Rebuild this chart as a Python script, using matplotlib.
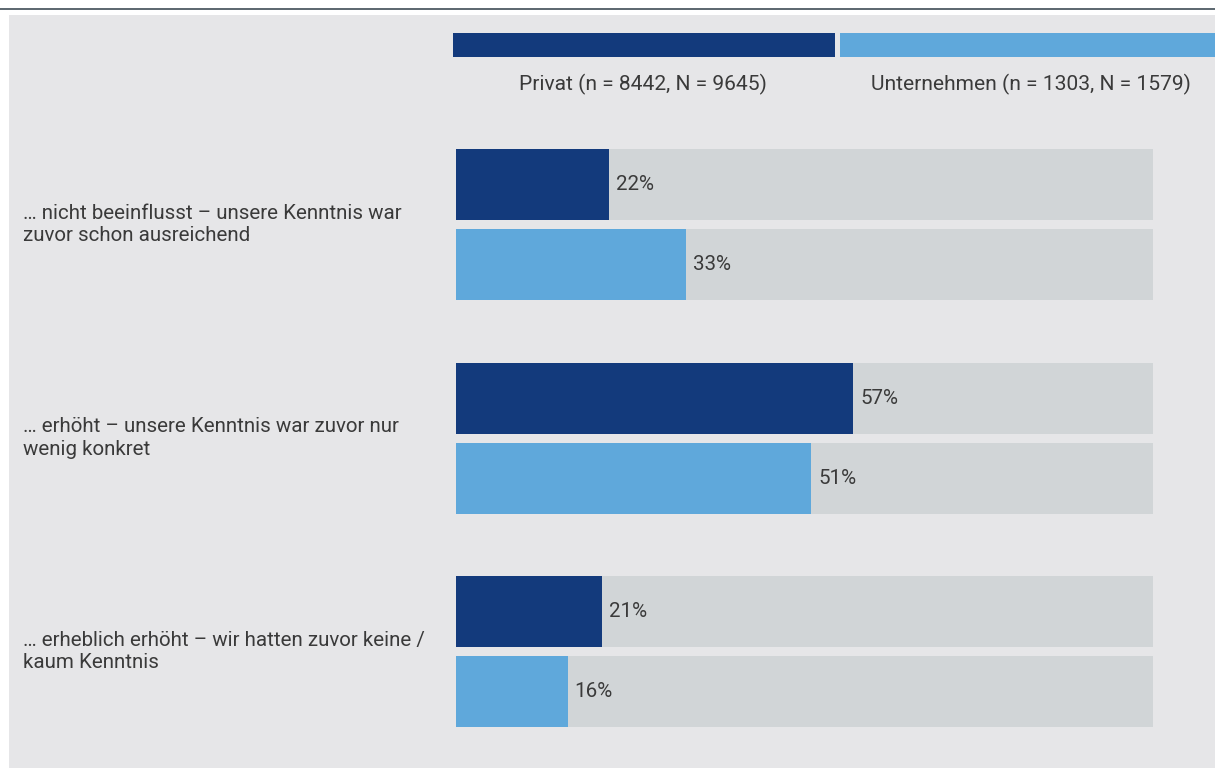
import matplotlib
matplotlib.use("Agg")
import matplotlib.pyplot as plt
from matplotlib.patches import Rectangle

plt.rcParams["font.family"] = ["Roboto", "DejaVu Sans"]

# Survey answers and shares (percent)
categories = [
    "… nicht beeinflusst – unsere Kenntnis war\nzuvor schon ausreichend",
    "… erhöht – unsere Kenntnis war zuvor nur\nwenig konkret",
    "… erheblich erhöht – wir hatten zuvor keine /\nkaum Kenntnis",
]
privat = [22, 57, 21]
unternehmen = [33, 51, 16]
series_labels = ["Privat (n = 8442, N = 9645)", "Unternehmen (n = 1303, N = 1579)"]

DARK = "#133a7c"
LIGHT = "#5fa8db"
TRACK = "#d1d5d7"
PANEL = "#e6e6e8"
TEXT = "#3a3a3a"
RULE = "#5f6a72"
FS = 14.8

W, H = 1215, 768
fig = plt.figure(figsize=(W / 100, H / 100), dpi=100)
fig.patch.set_facecolor("white")

# Panel background and top rule
fig.add_artist(Rectangle((9 / W, 0), 1 - 9 / W, 1 - 15 / H,
                         transform=fig.transFigure, facecolor=PANEL,
                         edgecolor="none", zorder=0))
fig.add_artist(Rectangle((0, 1 - 10 / H), 1, 2 / H,
                         transform=fig.transFigure, facecolor=RULE,
                         edgecolor="none", zorder=0))

# Legend swatches and captions
fig.add_artist(Rectangle((453 / W, 1 - 57 / H), (835 - 453) / W, 24 / H,
                         transform=fig.transFigure, facecolor=DARK,
                         edgecolor="none", zorder=1))
fig.add_artist(Rectangle((840 / W, 1 - 57 / H), (W - 840) / W, 24 / H,
                         transform=fig.transFigure, facecolor=LIGHT,
                         edgecolor="none", zorder=1))
fig.text(643 / W, 1 - 84 / H, series_labels[0], ha="center", va="center",
         fontsize=15.1, color=TEXT)
fig.text(1031 / W, 1 - 84 / H, series_labels[1], ha="center", va="center",
         fontsize=15.1, color=TEXT)

# Bar area: 0–100 % spans the full track width
left_px, right_px = 456, 1153
ax = fig.add_axes([left_px / W, 0, (right_px - left_px) / W, 1])
ax.set_xlim(0, 100)
ax.set_ylim(H, 0)
ax.axis("off")

group_centers = [224.5, 438, 651.5]
offset = 40
bar_h = 71

for i, (cat, p, u) in enumerate(zip(categories, privat, unternehmen)):
    yc = group_centers[i]
    for val, col, y in ((p, DARK, yc - offset), (u, LIGHT, yc + offset)):
        ax.barh(y, 100, height=bar_h, color=TRACK, zorder=1)
        ax.barh(y, val, height=bar_h, color=col, zorder=2)
        ax.annotate(f"{val}%", xy=(val, y), xytext=(5, 0),
                    textcoords="offset points", ha="left", va="center",
                    fontsize=FS, color=TEXT, zorder=3)
    fig.text(23 / W, 1 - yc / H, cat, ha="left", va="center",
             fontsize=FS, color=TEXT, linespacing=1.25)

fig.savefig("out.png", dpi=100, facecolor=fig.get_facecolor())
